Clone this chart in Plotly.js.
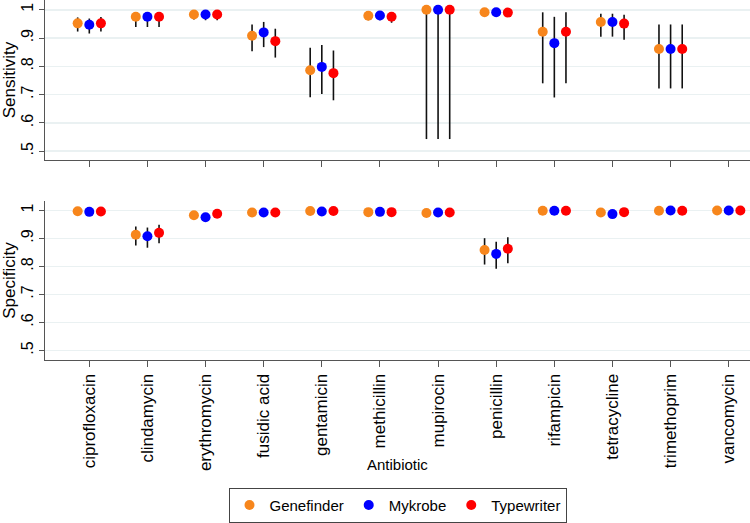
<!DOCTYPE html>
<html>
<head>
<meta charset="utf-8">
<script src="https://cdn.plot.ly/plotly-3.0.1.min.js"></script>
<style>html,body{margin:0;padding:0;background:#fff;}#chart{width:750px;height:523px;}</style>
</head>
<body>
<div id="chart"></div>
<script>
const antibiotics = ["ciprofloxacin","clindamycin","erythromycin","fusidic acid","gentamicin","methicillin","mupirocin","penicillin","rifampicin","tetracycline","trimethoprim","vancomycin"];
const methods = ["Genefinder","Mykrobe","Typewriter"];
const methodColors = ["#f7861c","#0000ff","#ff0000"];

// Sensitivity (estimate, lower CI, upper CI)
const sensGenefinder    = [0.952,0.975,0.983,0.908,0.786,0.979,1.000,0.991,0.922,0.957,0.861,null];
const sensGenefinderLo  = [0.923,0.939,0.966,0.853,0.691,0.963,0.543,0.985,0.740,0.905,0.722,null];
const sensGenefinderHi  = [0.973,0.992,0.994,0.948,0.866,0.990,1.000,0.996,0.991,0.986,0.948,null];
const sensMykrobe       = [0.947,0.975,0.983,0.920,0.798,0.980,1.000,0.991,0.882,0.957,0.861,null];
const sensMykrobeLo     = [0.916,0.939,0.963,0.868,0.702,0.963,0.543,0.985,0.690,0.905,0.722,null];
const sensMykrobeHi     = [0.969,0.991,0.993,0.957,0.875,0.990,1.000,0.996,0.975,0.986,0.948,null];
const sensTypewriter    = [0.952,0.975,0.983,0.889,0.776,0.975,1.000,0.990,0.922,0.951,0.861,null];
const sensTypewriterLo  = [0.923,0.939,0.963,0.831,0.680,0.954,0.543,0.984,0.740,0.894,0.722,null];
const sensTypewriterHi  = [0.974,0.992,0.993,0.933,0.856,0.988,1.000,0.995,0.991,0.982,0.948,null];

// Specificity (estimate, lower CI, upper CI)
const specGenefinder    = [0.997,0.913,0.983,0.993,0.998,0.994,0.991,0.859,0.999,0.993,0.999,1.000];
const specGenefinderLo  = [0.992,0.875,0.977,0.989,0.994,0.990,0.986,0.807,0.997,0.989,0.996,0.998];
const specGenefinderHi  = [0.999,0.943,0.988,0.996,0.999,0.997,0.994,0.901,1.000,0.996,1.000,1.000];
const specMykrobe       = [0.995,0.908,0.976,0.993,0.9965,0.995,0.993,0.845,0.999,0.987,1.000,1.000];
const specMykrobeLo     = [0.990,0.867,0.969,0.989,0.992,0.991,0.988,0.792,0.997,0.982,0.998,0.998];
const specMykrobeHi     = [0.998,0.939,0.982,0.996,0.999,0.997,0.996,0.888,1.000,0.991,1.000,1.000];
const specTypewriter    = [0.9965,0.920,0.988,0.993,0.998,0.994,0.993,0.863,0.999,0.994,0.999,1.000];
const specTypewriterLo  = [0.992,0.883,0.983,0.989,0.994,0.990,0.988,0.812,0.997,0.990,0.996,0.998];
const specTypewriterHi  = [0.999,0.949,0.992,0.996,0.999,0.997,0.996,0.904,1.000,0.997,1.000,1.000];

const yTickVals = [0.5,0.6,0.7,0.8,0.9,1];
const yTickText = [".5",".6",".7",".8",".9","1"];
const xTitle = "Antibiotic";

const sens = [[sensGenefinder,sensGenefinderLo,sensGenefinderHi],[sensMykrobe,sensMykrobeLo,sensMykrobeHi],[sensTypewriter,sensTypewriterLo,sensTypewriterHi]];
const spec = [[specGenefinder,specGenefinderLo,specGenefinderHi],[specMykrobe,specMykrobeLo,specMykrobeHi],[specTypewriter,specTypewriterLo,specTypewriterHi]];
const dodge = [-0.2, 0, 0.2];
const idx = antibiotics.map((_, i) => i);

function makeTrace(set, m, xa, ya, showLegend) {
  const [v, lo, hi] = set[m];
  return {
    type: "scatter", mode: "markers",
    x: idx.map(i => i + dodge[m]), y: v,
    xaxis: xa, yaxis: ya,
    name: methods[m], showlegend: showLegend, legendgroup: methods[m],
    marker: {color: methodColors[m], size: 10},
    error_y: {
      type: "data", symmetric: false, visible: true,
      array: v.map((y, i) => y == null ? null : hi[i] - y),
      arrayminus: v.map((y, i) => y == null ? null : y - lo[i]),
      width: 0, thickness: 1.6, color: "#111"
    },
    hoverinfo: "skip"
  };
}

const traces = [];
for (let m = 0; m < 3; m++) traces.push(makeTrace(sens, m, "x2", "y2", true));
for (let m = 0; m < 3; m++) traces.push(makeTrace(spec, m, "x", "y", false));

const fam = "Liberation Sans, Arial, Helvetica, sans-serif";
const font = {family: fam, size: 15, color: "#000"};
const bigFont = {family: fam, size: 17, color: "#000"};
const axisColor = "#555";
const gridColor = "#eaf1f2";
const xRange = [-0.762, 11.366];

function yAxis(domain, range, title, anchor) {
  return {
    domain: domain, range: range, anchor: anchor,
    tickvals: yTickVals, ticktext: yTickText, tickangle: -90,
    ticks: "outside", ticklen: 5, tickcolor: axisColor, tickwidth: 1,
    showline: true, linecolor: axisColor, linewidth: 1,
    showgrid: true, gridcolor: gridColor, gridwidth: 1.5,
    zeroline: false, tickfont: {family: fam, size: 16, color: "#000"},
    title: {text: title, font: bigFont, standoff: 6}
  };
}

const layout = {
  width: 750, height: 523,
  margin: {l: 45, r: 0, t: 0, b: 154},
  paper_bgcolor: "#fff", plot_bgcolor: "#fff",
  font: font,
  showlegend: true,
  xaxis: {
    domain: [0, 1], range: xRange, anchor: "y",
    tickvals: idx, ticktext: antibiotics, tickangle: -90,
    ticks: "outside", ticklen: 6, tickcolor: axisColor,
    showline: true, linecolor: axisColor, linewidth: 1,
    showgrid: false, zeroline: false, tickfont: bigFont
  },
  xaxis2: {
    domain: [0, 1], range: xRange, anchor: "y2",
    tickvals: idx, showticklabels: false,
    ticks: "outside", ticklen: 6, tickcolor: axisColor,
    showline: true, linecolor: axisColor, linewidth: 1,
    showgrid: false, zeroline: false
  },
  yaxis: yAxis([0, 0.4417], [0.4662, 1.0338], "Specificity", "x"),
  yaxis2: yAxis([0.5556, 1], [0.469, 1.0345], "Sensitivity", "x2"),
  annotations: [{
    text: xTitle, xref: "paper", yref: "paper", x: 0.5, y: -0.29,
    xanchor: "center", yanchor: "middle", showarrow: false, font: font
  }],
  legend: {
    orientation: "h", x: 0.5, xanchor: "center", y: -0.355, yanchor: "top",
    bordercolor: "#444", borderwidth: 1, bgcolor: "#fff", font: font,
    traceorder: "normal", tracegroupgap: 0
  }
};

Plotly.newPlot("chart", traces, layout, {staticPlot: true, displayModeBar: false});
</script>
</body>
</html>
